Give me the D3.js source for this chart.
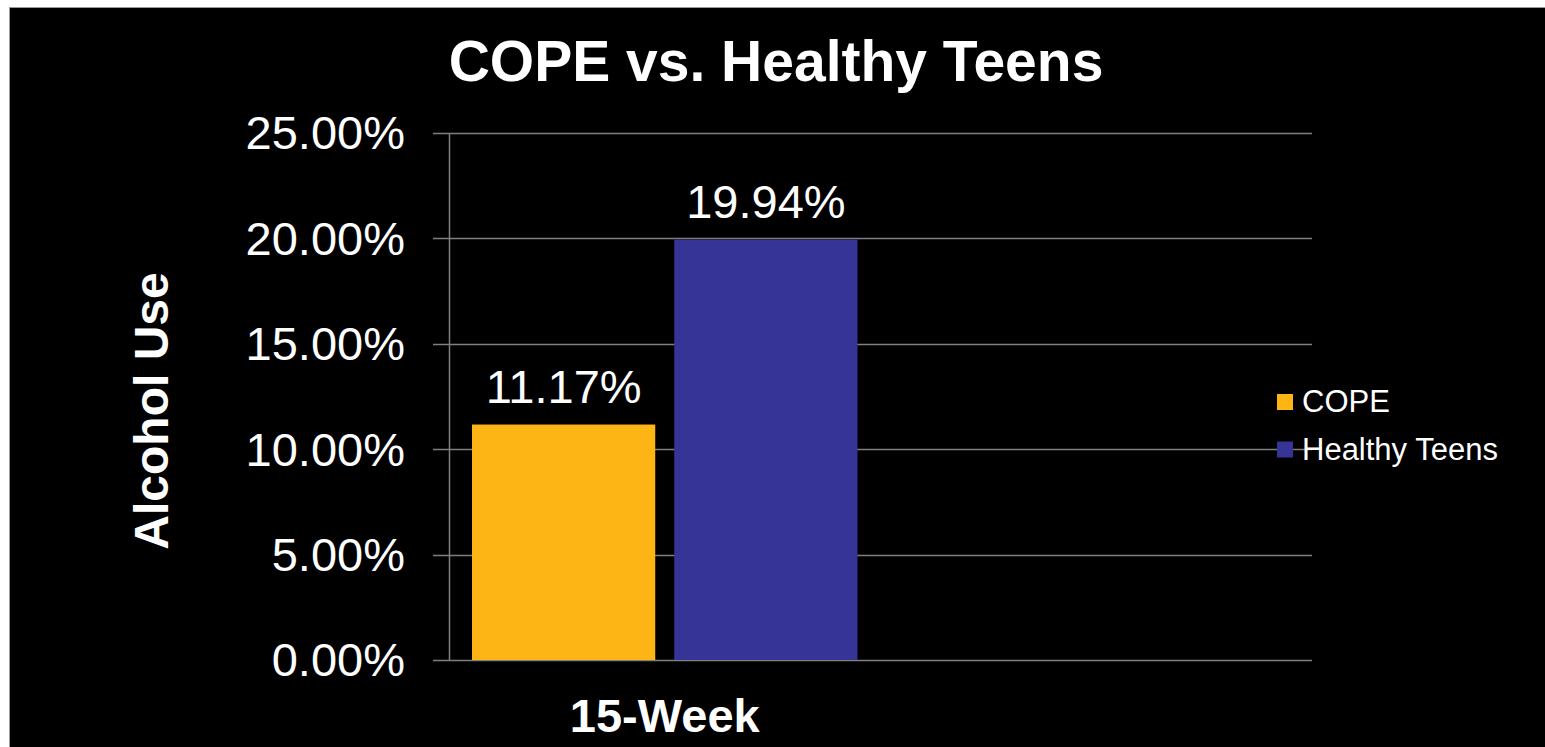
<!DOCTYPE html>
<html>
<head>
<meta charset="utf-8">
<script src="https://cdn.jsdelivr.net/npm/d3@7"></script>
<style>
  html, body { margin: 0; padding: 0; background: #fff; overflow: hidden; }
  svg { display: block; }
  text { font-family: "Liberation Sans", Arial, sans-serif; fill: #fff; }
</style>
</head>
<body>
<div id="chart"></div>
<script>
// chart data
var categories = ["15-Week", ""];
var series = ["COPE", "Healthy Teens"];
var values = [[11.17, 19.94], [null, null]];
var yTicks = [0, 5, 10, 15, 20, 25];
var seriesColors = ["#FDB515", "#363597"];

const W = 1545, H = 747;
const margin = { left: 449, right: 233, top: 133, bottom: 87 };
const width = W - margin.left - margin.right;
const height = H - margin.top - margin.bottom;

const svg = d3.select("#chart").append("svg")
    .attr("width", W)
    .attr("height", H);

// black slide panel with thin grey edge
svg.append("rect")
    .attr("x", 9.5).attr("y", 7.5)
    .attr("width", W + 10).attr("height", H + 10)
    .attr("fill", "#000")
    .attr("stroke", "#999");

svg.append("text")
    .attr("x", 776)
    .attr("y", 81)
    .attr("text-anchor", "middle")
    .style("font-size", "57px")
    .style("font-weight", "bold")
    .text("COPE vs. Healthy Teens");

const g = svg.append("g")
    .attr("transform", `translate(${margin.left},${margin.top})`);

const yScale = d3.scaleLinear()
    .domain([0, 25])
    .range([height, 0]);

const x0 = d3.scaleBand()
    .domain(categories)
    .range([0, width]);

// bars inside each category band
const x1 = d3.scaleBand()
    .domain(series)
    .range([23, x0.bandwidth() - 23])
    .paddingInner(0.094);

// gridlines + left tick marks
g.append("g")
    .attr("class", "grid")
    .selectAll("line")
    .data(yTicks)
    .join("line")
    .attr("x1", -16)
    .attr("x2", width)
    .attr("y1", d => Math.round(yScale(d)) + 0.5)
    .attr("y2", d => Math.round(yScale(d)) + 0.5)
    .attr("stroke", "#7f7f7f")
    .attr("stroke-width", 1.5);

// y-axis line
g.append("line")
    .attr("x1", 0.5).attr("x2", 0.5)
    .attr("y1", yScale(25)).attr("y2", yScale(0))
    .attr("stroke", "#7f7f7f")
    .attr("stroke-width", 1.5);

// y tick labels
g.append("g")
    .selectAll("text")
    .data(yTicks)
    .join("text")
    .attr("x", -44)
    .attr("y", d => yScale(d))
    .attr("dy", "0.35em")
    .attr("text-anchor", "end")
    .style("font-size", "47px")
    .text(d => d.toFixed(2) + "%");

// bars
const groups = g.selectAll(".cat")
    .data(categories)
    .join("g")
    .attr("class", "cat")
    .attr("transform", d => `translate(${x0(d)},0)`);

const barData = (c, i) => series.map((s, j) => ({ series: s, value: values[i][j], idx: j }))
    .filter(d => d.value != null);

groups.selectAll("rect")
    .data(barData)
    .join("rect")
    .attr("x", d => x1(d.series))
    .attr("y", d => yScale(d.value))
    .attr("width", x1.bandwidth())
    .attr("height", d => height - yScale(d.value))
    .attr("fill", d => seriesColors[d.idx]);

// value labels
groups.selectAll(".val")
    .data(barData)
    .join("text")
    .attr("class", "val")
    .attr("x", d => x1(d.series) + x1.bandwidth() / 2)
    .attr("y", d => yScale(d.value) - 22)
    .attr("text-anchor", "middle")
    .style("font-size", "47px")
    .text(d => d.value.toFixed(2) + "%");

// category labels
g.append("g")
    .selectAll("text")
    .data(categories)
    .join("text")
    .attr("x", d => x0(d) + x0.bandwidth() / 2)
    .attr("y", height + 72)
    .attr("text-anchor", "middle")
    .style("font-size", "47px")
    .style("font-weight", "bold")
    .text(d => d);

// y axis title
svg.append("text")
    .attr("transform", "translate(168,411) rotate(-90)")
    .attr("text-anchor", "middle")
    .style("font-size", "48px")
    .style("font-weight", "bold")
    .text("Alcohol Use");

// legend
const legend = svg.append("g")
    .attr("transform", "translate(1277,394)");

const items = legend.selectAll("g")
    .data(series)
    .join("g")
    .attr("transform", (d, i) => `translate(0,${i * 47.5})`);

items.append("rect")
    .attr("width", 16)
    .attr("height", 16)
    .attr("fill", (d, i) => seriesColors[i]);

items.append("text")
    .attr("x", 25)
    .attr("y", 18)
    .style("font-size", "31px")
    .text(d => d);
</script>
</body>
</html>
